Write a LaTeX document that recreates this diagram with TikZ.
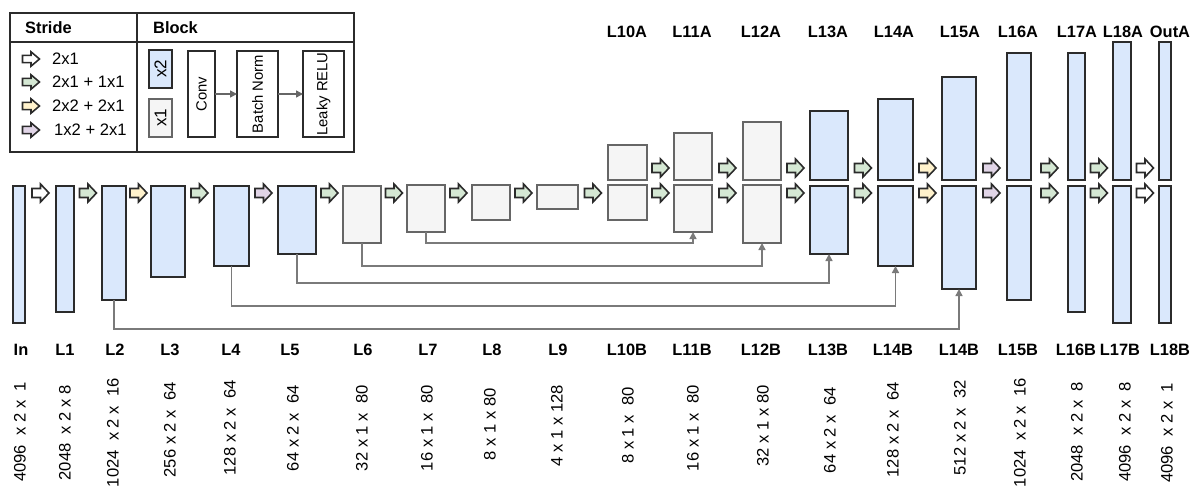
\documentclass[tikz,border=0pt]{standalone}
\usepackage{fontspec}
\setmainfont{Liberation Sans}
\usetikzlibrary{arrows.meta}
\definecolor{bfill}{HTML}{DAE8FC}
\definecolor{gfill}{HTML}{F5F5F5}
\definecolor{sgreen}{HTML}{D5E8D4}
\definecolor{syellow}{HTML}{FFF2CC}
\definecolor{spurple}{HTML}{E1D5E7}
\definecolor{dk}{HTML}{2B2B2B}
\definecolor{gline}{HTML}{666666}
\definecolor{skipc}{HTML}{7A7A7A}
\tikzset{
  bluebox/.style={draw=dk, fill=bfill, line width=1.6pt, inner sep=0, outer sep=0},
  graybox/.style={draw=gline, fill=gfill, line width=1.6pt, inner sep=0, outer sep=0},
  whitebox/.style={draw=dk, fill=white, line width=1.5pt, inner sep=0, outer sep=0},
  sarrowst/.style={draw=dk, line width=1.6pt, line join=miter},
  skipline/.style={draw=skipc, line width=1.5pt, -{Triangle[width=7pt,length=7pt]}},
  legarrow/.style={draw=gline, line width=1.5pt, -{Triangle[width=7pt,length=7pt]}},
  lbl/.style={font=\fontsize{16.4}{19}\selectfont\bfseries, inner sep=0},
  dimtxt/.style={font=\fontsize{16.6}{19}\selectfont, inner sep=0, rotate=90, anchor=east},
  legtxt/.style={font=\fontsize{16.6}{19}\selectfont, inner sep=0, anchor=west},
  blocktxt/.style={font=\fontsize{14.8}{17}\selectfont, inner sep=0, rotate=90},
  multtxt/.style={font=\fontsize{17}{19}\selectfont, inner sep=0, rotate=90},
}
\newcommand\colbox[6]{\node[#2, minimum width={#5-#3}, minimum height={#6-#4}] (#1) at ({(#3+#5)/2},{(#4+#6)/2}) {};}
\newcommand\sar[4][]{\draw[sarrowst, fill=#2, shift={(#3,#4)}, #1] (-8.5,-4.5) -- (0,-4.5) -- (0,-9) -- (8.5,0) -- (0,9) -- (0,4.5) -- (-8.5,4.5) -- cycle;}
\begin{document}
\begin{tikzpicture}[x=1pt,y=-1pt]
\fill[white] (0,0) rectangle (1192,487);
\useasboundingbox (0,0) rectangle (1192,487);

% ---------- legend ----------
\draw[dk, line width=2pt] (10,13) rectangle (354,152);
\draw[dk, line width=2pt] (137,13) -- (137,152);
\draw[dk, line width=2pt] (10,42) -- (354,42);
\node[lbl, anchor=west] (hStride) at (25,28) {Stride};
\node[lbl, anchor=west] (hBlock) at (153,28) {Block};
\sar[yscale=0.8]{white}{31}{59}
\sar[yscale=0.8]{sgreen}{31}{82}
\sar[yscale=0.8]{syellow}{31}{106}
\sar[yscale=0.8]{spurple}{31}{130}
\node[legtxt] (s1) at (52,59) {2x1};
\node[legtxt] (s2) at (52,82) {2x1 + 1x1};
\node[legtxt] (s3) at (52,106) {2x2 + 2x1};
\node[legtxt] (s4) at (54,130) {1x2 + 2x1};
\colbox{kx2}{bluebox}{149}{50}{172}{88}
\node[multtxt] (tx2) at (kx2) {x2};
\colbox{kx1}{graybox}{149}{99}{172}{137}
\node[multtxt] (tx1) at (kx1) {x1};
\colbox{conv}{whitebox}{188}{51}{215}{137}
\colbox{bn}{whitebox}{237}{51}{278}{137}
\colbox{lr}{whitebox}{303}{51}{344}{137}
\node[blocktxt] (tconv) at (conv) {Conv};
\node[blocktxt] (tbn) at (bn) {Batch Norm};
\node[blocktxt] (tlr) at (lr) {Leaky RELU};
\draw[legarrow] (conv.east) -- (bn.west);
\draw[legarrow] (bn.east) -- (lr.west);

% ---------- columns ----------
\colbox{In}{bluebox}{13}{186}{25}{323}
\colbox{L1}{bluebox}{56}{186}{74}{312}
\colbox{L2}{bluebox}{102}{186}{126}{300}
\colbox{L3}{bluebox}{151}{186}{185}{277}
\colbox{L4}{bluebox}{214}{186}{249}{266}
\colbox{L5}{bluebox}{278}{186}{316}{254}
\colbox{L6}{graybox}{343}{186}{381}{243}
\colbox{L7}{graybox}{407}{185}{445}{232}
\colbox{L8}{graybox}{472}{185}{510}{220}
\colbox{L9}{graybox}{537}{185}{578}{209}
\colbox{L10A}{graybox}{608}{145}{647}{180}
\colbox{L10B}{graybox}{608}{185}{647}{220}
\colbox{L11A}{graybox}{674}{133}{712}{180}
\colbox{L11B}{graybox}{674}{185}{712}{232}
\colbox{L12A}{graybox}{743}{122}{781}{180}
\colbox{L12B}{graybox}{743}{185}{781}{243}
\colbox{L13A}{bluebox}{810}{111}{848}{180}
\colbox{L13B}{bluebox}{810}{186}{848}{254}
\colbox{L14A}{bluebox}{878}{99}{913}{180}
\colbox{L14B}{bluebox}{878}{186}{913}{266}
\colbox{L15A}{bluebox}{942}{77}{976}{180}
\colbox{L15B}{bluebox}{942}{186}{976}{289}
\colbox{L16A}{bluebox}{1007}{53}{1031}{180}
\colbox{L16B}{bluebox}{1007}{186}{1031}{300}
\colbox{L17A}{bluebox}{1068}{53}{1085}{180}
\colbox{L17B}{bluebox}{1068}{186}{1085}{312}
\colbox{L18A}{bluebox}{1113}{42}{1131}{180}
\colbox{L18B}{bluebox}{1113}{186}{1131}{323}
\colbox{OutA}{bluebox}{1159}{42}{1171}{180}
\colbox{OutB}{bluebox}{1159}{186}{1171}{323}

% ---------- stride arrows ----------
\def\ly{193}
\def\uy{168}
\sar{white}{40.5}{\ly}
\sar{sgreen}{88}{\ly}
\sar{syellow}{138.5}{\ly}
\sar{sgreen}{199.5}{\ly}
\sar{spurple}{263.5}{\ly}
\sar{sgreen}{329.5}{\ly}
\sar{sgreen}{394}{\ly}
\sar{sgreen}{458.5}{\ly}
\sar{sgreen}{523.5}{\ly}
\sar{sgreen}{593}{\ly}
\sar{sgreen}{660.5}{\ly}\sar{sgreen}{660.5}{\uy}
\sar{sgreen}{727.5}{\ly}\sar{sgreen}{727.5}{\uy}
\sar{sgreen}{795.5}{\ly}\sar{sgreen}{795.5}{\uy}
\sar{sgreen}{863}{\ly}\sar{sgreen}{863}{\uy}
\sar{syellow}{927.5}{\ly}\sar{syellow}{927.5}{\uy}
\sar{spurple}{991.5}{\ly}\sar{spurple}{991.5}{\uy}
\sar{sgreen}{1049.5}{\ly}\sar{sgreen}{1049.5}{\uy}
\sar{sgreen}{1099}{\ly}\sar{sgreen}{1099}{\uy}
\sar{white}{1145}{\ly}\sar{white}{1145}{\uy}

% ---------- skip connections ----------
\draw[skipline] (L7.south) -- ++(0,11) -| (L11B.south);
\draw[skipline] (L6.south) -- ++(0,23) -| (L12B.south);
\draw[skipline] (L5.south) -- ++(0,29) -| (L13B.south);
\draw[skipline] (L4.south) -- ++(0,40) -| (L14B.south);
\draw[skipline] (L2.south) -- ++(0,29) -| (L15B.south);

% ---------- top labels ----------
\node[lbl] (tL10A) at (627,32) {L10A};
\node[lbl] (tL11A) at (692,32) {L11A};
\node[lbl] (tL12A) at (761,32) {L12A};
\node[lbl] (tL13A) at (828,32) {L13A};
\node[lbl] (tL14A) at (894,32) {L14A};
\node[lbl] (tL15A) at (960,32) {L15A};
\node[lbl] (tL16A) at (1018,32) {L16A};
\node[lbl] (tL17A) at (1077,32) {L17A};
\node[lbl] (tL18A) at (1123,32) {L18A};
\node[lbl] (tOutA) at (1170,32) {OutA};

% ---------- bottom labels ----------
\node[lbl] (bIn) at (21,350) {In};
\node[lbl] (bL1) at (65,350) {L1};
\node[lbl] (bL2) at (115,350) {L2};
\node[lbl] (bL3) at (170,350) {L3};
\node[lbl] (bL4) at (231,350) {L4};
\node[lbl] (bL5) at (290,350) {L5};
\node[lbl] (bL6) at (363,350) {L6};
\node[lbl] (bL7) at (428,350) {L7};
\node[lbl] (bL8) at (492,350) {L8};
\node[lbl] (bL9) at (558,350) {L9};
\node[lbl] (bL10) at (627,350) {L10B};
\node[lbl] (bL11) at (692,350) {L11B};
\node[lbl] (bL12) at (761,350) {L12B};
\node[lbl] (bL13) at (828,350) {L13B};
\node[lbl] (bL14) at (893,350) {L14B};
\node[lbl] (bL14b) at (959,350) {L14B};
\node[lbl] (bL15) at (1018,350) {L15B};
\node[lbl] (bL16) at (1076,350) {L16B};
\node[lbl] (bL17) at (1120,350) {L17B};
\node[lbl] (bL18) at (1170,350) {L18B};

% ---------- dimensions ----------
\node[dimtxt] (dIn) at (20,382) {4096~ x 2 x~ 1};
\node[dimtxt] (dL1) at (65,385) {2048~ x 2 x 8};
\node[dimtxt] (dL2) at (113,378) {1024~ x 2 x~ 16};
\node[dimtxt] (dL3) at (170,382) {256 x 2 x~ 64};
\node[dimtxt] (dL4) at (230,380) {128 x 2 x~ 64};
\node[dimtxt] (dL5) at (293,385) {64 x 2 x~ 64};
\node[dimtxt] (dL6) at (362,385) {32 x 1 x~ 80};
\node[dimtxt] (dL7) at (427,385) {16 x 1 x~ 80};
\node[dimtxt] (dL8) at (490,388) {8 x 1 x 80};
\node[dimtxt] (dL9) at (557,385) {4 x 1 x 128};
\node[dimtxt] (dL10) at (628,387) {8 x 1 x~ 80};
\node[dimtxt] (dL11) at (693,385) {16 x 1 x~ 80};
\node[dimtxt] (dL12) at (763,385) {32 x 1 x 80};
\node[dimtxt] (dL13) at (830,387) {64 x 2 x~ 64};
\node[dimtxt] (dL14) at (893,382) {128 x 2 x~ 64};
\node[dimtxt] (dL14b) at (960,380) {512 x 2 x~ 32};
\node[dimtxt] (dL15) at (1020,378) {1024~ x 2 x~ 16};
\node[dimtxt] (dL16) at (1077,382) {2048~ x 2 x~ 8};
\node[dimtxt] (dL17) at (1125,382) {4096~ x 2 x~ 8};
\node[dimtxt] (dL18) at (1167,383) {4096~ x 2 x~ 1};
\end{tikzpicture}
\end{document}
